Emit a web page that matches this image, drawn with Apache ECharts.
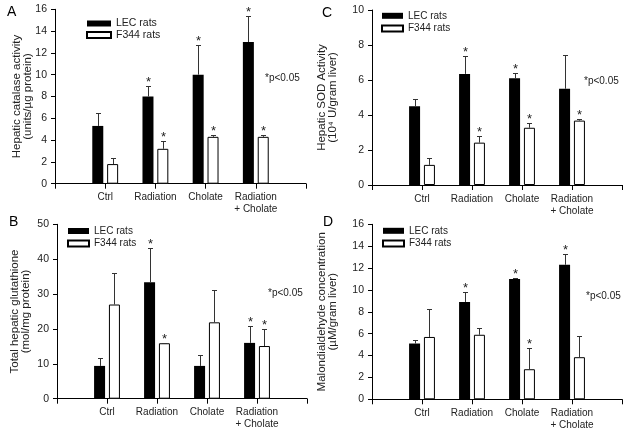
<!DOCTYPE html>
<html>
<head>
<meta charset="utf-8">
<script src="https://cdn.jsdelivr.net/npm/echarts@6/dist/echarts.min.js"></script>
<style>
html,body{margin:0;padding:0;background:#fff;}
#chart{width:629px;height:435px;}
</style>
</head>
<body>
<div id="chart"></div>
<script>
// ---- data ----
const categories = ['Ctrl', 'Radiation', 'Cholate', 'Radiation\n+ Cholate'];
const seriesNames = ['LEC rats', 'F344 rats'];

// Panel A: hepatic catalase activity
const catalaseLEC = [5.3, 8.0, 10.0, 13.0];
const catalaseLECErr = [1.2, 1.0, 2.7, 2.4];
const catalaseLECSig = [0, 1, 1, 1];
const catalaseF344 = [1.8, 3.2, 4.3, 4.3];
const catalaseF344Err = [0.55, 0.7, 0.15, 0.15];
const catalaseF344Sig = [0, 1, 1, 1];

// Panel B: total hepatic glutathione
const gshLEC = [9.4, 33.4, 9.4, 16.0];
const gshLECErr = [2.4, 9.9, 3.0, 4.9];
const gshLECSig = [0, 1, 0, 1];
const gshF344 = [27.0, 15.9, 21.9, 15.1];
const gshF344Err = [9.1, 0.2, 9.2, 4.8];
const gshF344Sig = [0, 1, 0, 1];

// Panel C: hepatic SOD activity
const sodLEC = [4.5, 6.35, 6.1, 5.5];
const sodLECErr = [0.4, 1.0, 0.3, 1.95];
const sodLECSig = [0, 1, 1, 0];
const sodF344 = [1.15, 2.42, 3.27, 3.68];
const sodF344Err = [0.4, 0.4, 0.27, 0.08];
const sodF344Sig = [0, 1, 1, 1];

// Panel D: malondialdehyde
const mdaLEC = [5.1, 8.9, 11.0, 12.3];
const mdaLECErr = [0.35, 0.9, 0.08, 1.0];
const mdaLECSig = [0, 1, 1, 1];
const mdaF344 = [5.7, 5.9, 2.75, 3.85];
const mdaF344Err = [2.55, 0.6, 1.9, 1.9];
const mdaF344Sig = [0, 0, 1, 0];

const panelLetters = ['A', 'B', 'C', 'D'];
const yNames = [
  'Hepatic catalase activity\n(units/\u00b5g protein)',
  'Total hepatic glutathione\n(mol/mg protein)',
  'Hepatic SOD Activity\n(10\u2074 U/gram liver)',
  'Malondialdehyde concentration\n(\u00b5M/gram liver)'
];
const yMax = [16, 50, 10, 16];
const yInterval = [2, 10, 2, 2];
const sigNote = '*p<0.05';

// ---- layout (styles) ----
const FONT = '"Liberation Sans", Arial, sans-serif';
const TXT = '#222';
const grids = [
  {left: 55, top: 9.3, width: 251, height: 174.4},
  {left: 57, top: 224.3, width: 250, height: 174.4},
  {left: 372, top: 10, width: 250, height: 175},
  {left: 372, top: 224.3, width: 250, height: 175}
];
const nameGaps = [22, 26, 34, 34];
const legendPos = [
  {left: 86, top: 18, itemWidth: 24, fontSize: 10.5, lh: 11.6},
  {left: 67, top: 225.5, itemWidth: 21, fontSize: 10, lh: 12.5},
  {left: 381, top: 10.3, itemWidth: 21, fontSize: 10, lh: 12.7},
  {left: 382, top: 225.3, itemWidth: 21, fontSize: 10, lh: 12.7}
];
const notePos = [[265, 79.5], [268, 294.5], [584, 82.5], [586, 297]];
const letterPos = [[7, 12.5], [9, 222], [322, 13.5], [323, 222.5]];

const panels = [
  {lec: catalaseLEC, lecErr: catalaseLECErr, lecSig: catalaseLECSig, f: catalaseF344, fErr: catalaseF344Err, fSig: catalaseF344Sig},
  {lec: gshLEC, lecErr: gshLECErr, lecSig: gshLECSig, f: gshF344, fErr: gshF344Err, fSig: gshF344Sig},
  {lec: sodLEC, lecErr: sodLECErr, lecSig: sodLECSig, f: sodF344, fErr: sodF344Err, fSig: sodF344Sig},
  {lec: mdaLEC, lecErr: mdaLECErr, lecSig: mdaLECSig, f: mdaF344, fErr: mdaF344Err, fSig: mdaF344Sig}
];

const BAR_W = 11;
const BAR_GAP = '35%';
const OFFSET = (BAR_W + BAR_W * 0.35) / 2;

function errRenderer(offset) {
  return function (params, api) {
    const x = api.value(0), v = api.value(1), e = api.value(2), s = api.value(3);
    const p0 = api.coord([x, v]);
    const p1 = api.coord([x, v + e]);
    const cx = Math.round(p0[0] + offset) + 0.5;
    const ty = Math.round(p1[1]) + 0.5;
    const children = [
      {type: 'line', shape: {x1: cx, y1: p0[1], x2: cx, y2: ty}, style: {stroke: '#333', lineWidth: 1}},
      {type: 'line', shape: {x1: cx - 2.5, y1: ty, x2: cx + 2.5, y2: ty}, style: {stroke: '#333', lineWidth: 1}}
    ];
    if (s) {
      children.push({type: 'text', x: cx, y: ty + 2,
        style: {text: '*', fontSize: 13, fontFamily: FONT, fill: TXT, align: 'center', verticalAlign: 'bottom'}});
    }
    return {type: 'group', children: children};
  };
}

const option = {
  backgroundColor: '#fff',
  animation: false,
  grid: grids.map(g => Object.assign({outerBoundsMode: 'none', containLabel: false}, g)),
  xAxis: grids.map((g, i) => ({
    type: 'value', gridIndex: i, min: 0, max: 5, interval: 1,
    axisLine: {show: true, onZero: false, lineStyle: {color: '#000', width: 1}},
    axisTick: {show: true, length: 5, inside: false, lineStyle: {color: '#000'}},
    splitLine: {show: false},
    axisLabel: {
      show: true, margin: 8, color: TXT, fontSize: 10, fontFamily: FONT, lineHeight: 12,
      formatter: v => categories[v - 1] || '',
      showMinLabel: true, showMaxLabel: true, hideOverlap: false
    }
  })),
  yAxis: grids.map((g, i) => ({
    type: 'value', gridIndex: i, min: 0, max: yMax[i], interval: yInterval[i],
    name: yNames[i], nameLocation: 'middle', nameRotate: 90, nameGap: nameGaps[i],
    nameMoveOverlap: false,
    nameTextStyle: {color: TXT, fontSize: 11.5, fontFamily: FONT, lineHeight: 11},
    axisLine: {show: true, lineStyle: {color: '#000', width: 1}},
    axisTick: {show: true, length: 4, inside: false, lineStyle: {color: '#000'}},
    splitLine: {show: false},
    axisLabel: {show: true, margin: 8, color: TXT, fontSize: 10.5, fontFamily: FONT}
  })),
  legend: legendPos.map(lp => ({
    data: seriesNames, orient: 'vertical', left: lp.left, top: lp.top,
    itemWidth: lp.itemWidth, itemHeight: 6, itemGap: lp.lh - 11, itemTextGap: 4,
    padding: 0, selectedMode: false, icon: 'rect',
    textStyle: {color: TXT, fontSize: lp.fontSize, fontFamily: FONT, lineHeight: 11}
  })),
  graphic: [].concat(
    notePos.map(p => ({type: 'text', left: p[0], top: p[1] - 6,
      style: {text: sigNote, fontSize: 10, fontFamily: FONT, fill: TXT}})),
    letterPos.map((p, i) => ({type: 'text', left: p[0], top: p[1] - 7,
      style: {text: panelLetters[i], fontSize: 14, fontFamily: FONT, fill: '#000'}}))
  ),
  series: []
};

panels.forEach((pn, i) => {
  option.series.push({
    type: 'bar', name: seriesNames[0], xAxisIndex: i, yAxisIndex: i,
    barWidth: BAR_W, barGap: BAR_GAP,
    itemStyle: {color: '#000', borderColor: '#000', borderWidth: 0},
    data: pn.lec.map((v, k) => [k + 1, v])
  });
  option.series.push({
    type: 'bar', name: seriesNames[1], xAxisIndex: i, yAxisIndex: i,
    barWidth: BAR_W, barGap: BAR_GAP,
    itemStyle: {color: '#fff', borderColor: '#000', borderWidth: 1},
    data: pn.f.map((v, k) => [k + 1, v])
  });
  option.series.push({
    type: 'custom', name: 'lecErr' + i, xAxisIndex: i, yAxisIndex: i, z: 5,
    renderItem: errRenderer(-OFFSET),
    data: pn.lec.map((v, k) => [k + 1, v, pn.lecErr[k], pn.lecSig[k]])
  });
  option.series.push({
    type: 'custom', name: 'f344Err' + i, xAxisIndex: i, yAxisIndex: i, z: 5,
    renderItem: errRenderer(OFFSET),
    data: pn.f.map((v, k) => [k + 1, v, pn.fErr[k], pn.fSig[k]])
  });
});

const chart = echarts.init(document.getElementById('chart'), null, {renderer: 'canvas'});
chart.setOption(option);
</script>
</body>
</html>
